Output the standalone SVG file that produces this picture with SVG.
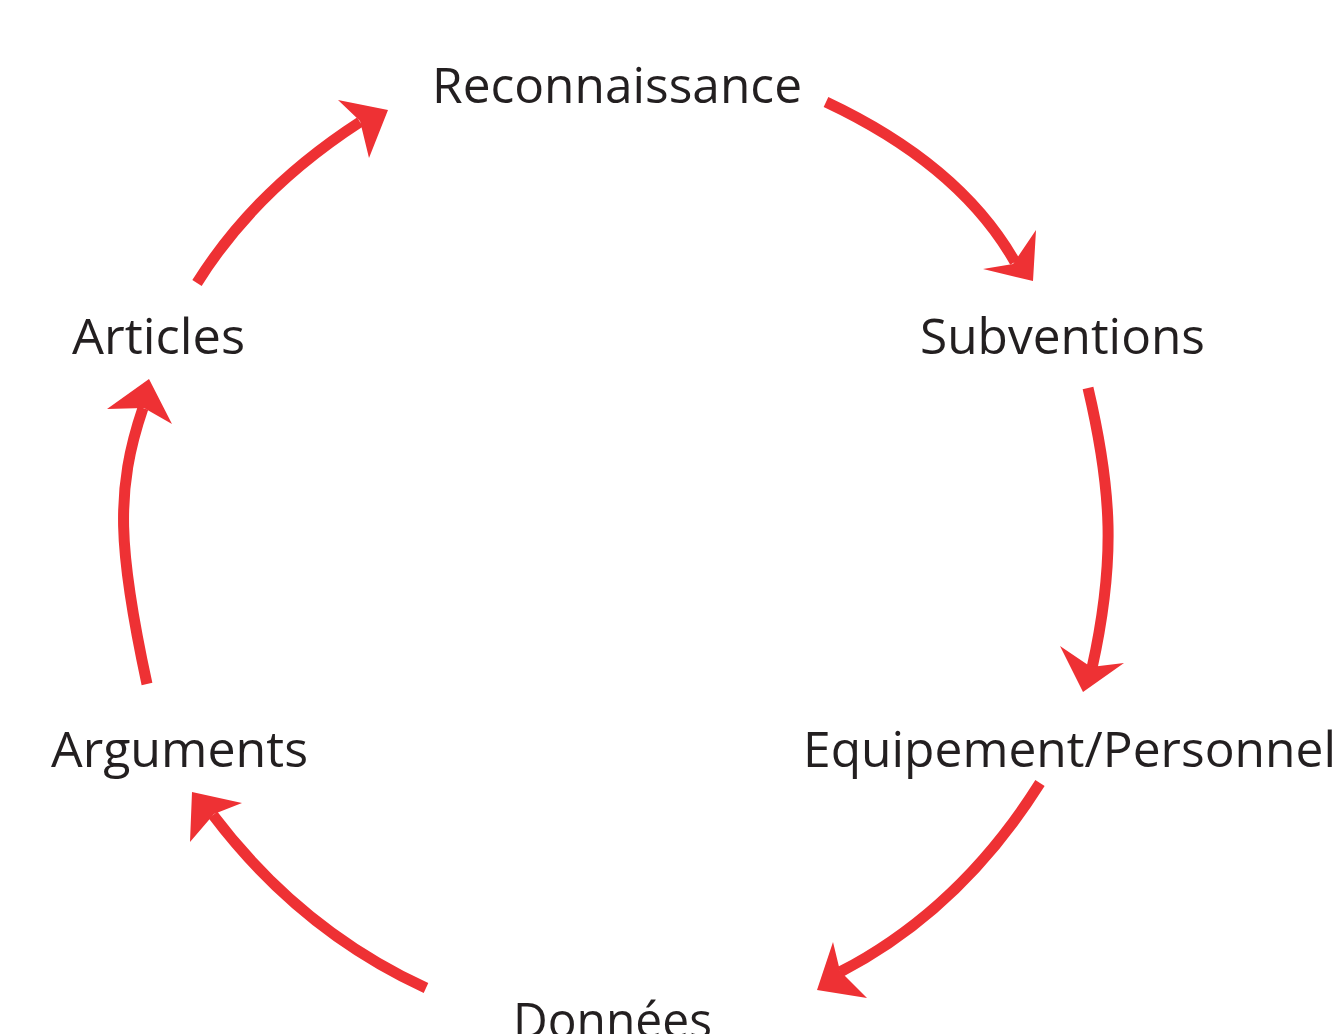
<svg xmlns="http://www.w3.org/2000/svg" width="1343" height="1034" viewBox="0 0 1343 1034">
<style>
.lbl{font-family:"Open Sans","Liberation Sans",sans-serif;font-size:50px;fill:#231f20;}
.ln{fill:none;stroke:#ee3134;stroke-width:11;}
.hd{fill:#ee3134;}
</style>
<rect width="1343" height="1034" fill="#fff"/>
<g id="connectors">
<path class="ln" d="M197,283 Q255,190 360,122"/>
<polygon class="hd" points="388,110 338,100 360,121 369,158"/>
<path class="ln" d="M826,102 Q960,165 1015,262"/>
<polygon class="hd" points="1033,281 983,269 1013,264 1036,230"/>
<path class="ln" d="M1088,388 C1112,490 1116,560 1092,668"/>
<polygon class="hd" points="1083,692 1060,646 1091,667 1124,663"/>
<path class="ln" d="M1040,783 Q960,910 840,972"/>
<polygon class="hd" points="817,990 833,942 840,971 867,998"/>
<path class="ln" d="M426,988 Q300,930 213,815"/>
<polygon class="hd" points="192,792 242,803 214,814 190,842"/>
<path class="ln" d="M147,684 C118,550 115,490 143,408"/>
<polygon class="hd" points="149,379 107,409 144,408 172,424"/>
</g>
<g id="node-reconnaissance"><text class="lbl" x="432" y="103" textLength="370" lengthAdjust="spacingAndGlyphs">Reconnaissance</text></g>
<g id="node-subventions"><text class="lbl" x="920" y="354" textLength="285" lengthAdjust="spacingAndGlyphs">Subventions</text></g>
<g id="node-equipement"><text class="lbl" x="803" y="767" textLength="533" lengthAdjust="spacingAndGlyphs">Equipement/Personnel</text></g>
<g id="node-donnees"><text class="lbl" x="513" y="1038" textLength="199" lengthAdjust="spacingAndGlyphs">Données</text></g>
<g id="node-arguments"><text class="lbl" x="51" y="767" textLength="257" lengthAdjust="spacingAndGlyphs">Arguments</text></g>
<g id="node-articles"><text class="lbl" x="72" y="354" textLength="173" lengthAdjust="spacingAndGlyphs">Articles</text></g>
</svg>
